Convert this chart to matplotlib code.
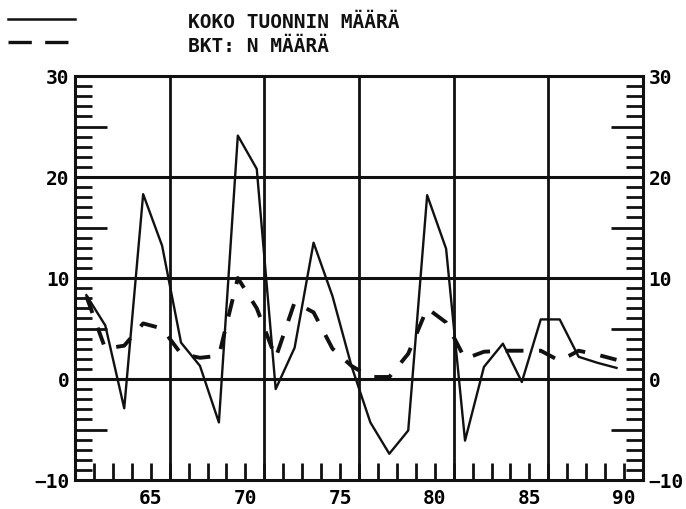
import matplotlib
matplotlib.use("Agg")
import matplotlib.pyplot as plt
from matplotlib.lines import Line2D

plt.rcParams['font.family'] = ['DejaVu Sans Mono', 'DejaVu Sans']
plt.rcParams['font.weight'] = 'bold'

# ---- data (annual % change) ----
years = list(range(61, 90))
import_vol = [8.3, 5.3, -2.9, 18.3, 13.2, 3.6, 1.3, -4.3, 24.1, 20.8, -1.0, 3.1, 13.5, 8.2,
              1.3, -4.3, -7.4, -5.1, 18.2, 12.9, -6.1, 1.2, 3.5, -0.3, 5.9, 5.9, 2.2, 1.6, 1.1]
gdp_vol = [8.2, 3.0, 3.3, 5.5, 5.0, 2.5, 2.1, 2.3, 10.0, 7.0, 2.1, 7.6, 6.6, 3.0,
           1.3, 0.2, 0.2, 2.5, 7.0, 5.6, 2.0, 2.7, 2.8, 2.8, 2.8, 1.8, 2.8, 2.4, 1.9]
series_labels = ['KOKO TUONNIN MÄÄRÄ', 'BKT: N MÄÄRÄ']
x_tick_labels = [65, 70, 75, 80, 85, 90]
y_tick_values = [-10, 0, 10, 20, 30]
v_grid = [66, 71, 76, 81, 86]
h_grid = [0, 10, 20]

ink = '#111111'
mid_year = 0.6  # points are plotted inside each year interval

fig = plt.figure(figsize=(6.86, 5.10), dpi=100)
ax = fig.add_axes([75/686, 1 - 481/510, 568/686, 404/510])
ax.set_xlim(61, 91)
ax.set_ylim(-10, 30)

for v in v_grid:
    ax.axvline(v, color=ink, lw=2.0, zorder=1)
for h in h_grid:
    ax.axhline(h, color=ink, lw=2.2, zorder=1)

xs = [y + mid_year for y in years]
ax.plot(xs, import_vol, color=ink, lw=1.7, zorder=3)
ax.plot(xs, gdp_vol, color=ink, lw=2.8, dashes=(4.6, 4.0), zorder=3)

for s in ax.spines.values():
    s.set_linewidth(2.2)
    s.set_color(ink)

ax.set_xticks(x_tick_labels)
ax.set_xticklabels([str(v) for v in x_tick_labels])
ax.set_xticks(range(62, 91), minor=True)
ax.tick_params(axis='x', which='both', direction='in', length=12, width=2,
               color=ink, top=False, bottom=True, labelsize=14, pad=6)

yt = list(range(-10, 31, 5))
ax.set_yticks(yt)
ax.set_yticklabels([(str(v).replace('-', '\u2212') if v in y_tick_values else '') for v in yt])
ax.set_yticks(range(-10, 31), minor=True)
ax.tick_params(axis='y', which='major', direction='in', length=23, width=2, color=ink,
               left=True, right=True, labelleft=True, labelright=True, labelsize=14, pad=4)
ax.tick_params(axis='y', which='minor', direction='in', length=12, width=2, color=ink,
               left=True, right=True)

# legend (top-left)
fig.add_artist(Line2D([8/686, 75/686], [1 - 20/510] * 2, transform=fig.transFigure,
                      lw=1.8, color=ink))
fig.add_artist(Line2D([8/686, 69/686], [1 - 43/510] * 2, transform=fig.transFigure,
                      lw=2.4, color=ink, dashes=(7.0, 4.0)))
fig.text(188/686, 1 - 22/510, series_labels[0], va='center', ha='left', fontsize=14,
         weight='bold', color=ink)
fig.text(188/686, 1 - 47/510, series_labels[1], va='center', ha='left', fontsize=14,
         weight='bold', color=ink)

fig.savefig('out.png', dpi=100, facecolor='white')
